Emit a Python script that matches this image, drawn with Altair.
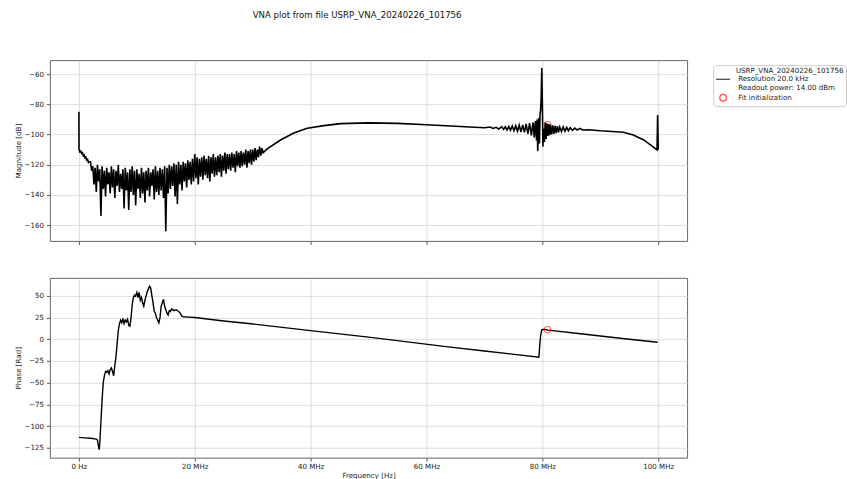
import altair as alt
import pandas as pd

TITLE = "VNA plot from file USRP_VNA_20240226_101756"
LEGEND_HEAD = "USRP_VNA_20240226_101756"
LEGEND_INDENT = "\u2800" * 4
TRACE_LABEL = "Resolution 20.0 kHz\nReadout power: 14.00 dBm"
FIT_LABEL = "Fit initialization"

# x ticks (MHz)
x_ticks = [0, 20, 40, 60, 80, 100]
mag_ticks = [-160, -140, -120, -100, -80, -60]
phase_ticks = [-125, -100, -75, -50, -25, 0, 25, 50]

# ---- magnitude trace ----
mag_start_freq = [0.0, 0.02, 0.15, 0.3, 0.45, 0.6, 0.75, 0.9, 1.05, 1.2, 1.35, 1.5, 1.65, 1.8]
mag_start_db = [-85, -110, -111.5, -111, -112.5, -112, -114, -113.5, -115.5, -115, -117, -116.5, -118.5, -118]

# noisy band, sampled every 0.2 MHz from 2.0 MHz
noise_freq_start = 2.0
noise_freq_step = 0.2
mag_noise_db = [
    -118, -124, -121, -133, -122, -138, -120, -131, -123, -154,
    -121, -136, -124, -141, -122, -133, -125, -139, -121, -135,
    -123, -142, -124, -134, -120, -138, -126, -136, -123, -149,
    -122, -137, -125, -150, -123, -138, -121, -140, -124, -147,
    -123, -136, -126, -142, -122, -139, -125, -145, -124, -137,
    -122, -141, -125, -134, -123, -143, -121, -138, -124, -140,
    -122, -137, -123, -142, -121, -164, -122, -139, -120, -136,
    -121, -134, -119, -141, -120, -146, -118, -133, -120, -137,
    -118, -131, -119, -135, -117, -130, -118, -133, -116, -131,
    -113, -129, -115, -133, -116, -128, -115, -130, -114, -127,
    -116, -129, -114, -131, -115, -126, -113, -128, -115, -127,
    -114, -125, -113, -128, -114, -124, -112, -126, -113, -123,
    -113, -124, -112, -122, -113, -125, -111, -121, -112, -122,
    -111, -121, -112, -120, -110, -122, -111, -119, -110, -120,
    -110, -118, -109, -117, -110, -115, -108, -114, -109, -112,
]

mag_tail_freq = [32.5, 34.8, 37.1, 39.4, 42.3, 45.2, 50, 55, 60, 65,
                 70, 71, 71.5, 72, 72.5, 73, 73.3, 73.6, 73.9, 74.2,
                 74.5, 74.8, 75.1, 75.4, 75.7, 76, 76.3, 76.6, 76.9, 77.2,
                 77.5, 77.8, 78.1, 78.4, 78.6, 78.8, 79.0, 79.1, 79.2, 79.35,
                 79.5, 79.6, 79.7, 79.8, 79.9, 80.0, 80.1, 80.2, 80.35, 80.5,
                 80.65, 80.8, 80.95, 81.1, 81.25, 81.4, 81.6, 81.8, 82.0, 82.2,
                 82.4, 82.6, 82.8, 83.0, 83.3, 83.6, 83.9, 84.2, 84.5, 84.8,
                 85.2, 85.6, 86, 86.5, 87, 88, 90, 92, 94, 95.7,
                 97.5, 98.9, 99.8, 99.9, 100]
mag_tail_db = [-109.5, -103.6, -99, -95.8, -94.1, -92.8, -92.3, -92.6, -93.5, -94.5,
               -95.5, -95, -96, -95.2, -96.3, -94.8, -96.6, -94.9, -97, -94.6,
               -97.2, -94.4, -97.5, -94.2, -97.8, -93.8, -98.3, -93.6, -98.5, -93,
               -99.5, -92.5, -100.5, -92, -102, -91, -104, -90, -111, -89,
               -106, -86, -84, -75, -56, -80, -108, -96, -105, -92,
               -103, -92.5, -101, -93, -100.5, -93.5, -100, -94, -99.5, -94.2,
               -99, -94.5, -98.5, -95, -98, -95, -97.8, -95.3, -97.5, -95.5,
               -97.3, -95.8, -97, -96, -97, -96.8, -97.5, -98, -98.5, -100.3,
               -103.6, -107.5, -110.2, -87, -110]

# ---- phase trace ----
phase_freq = [0, 1, 2, 3, 3.2, 3.4, 3.5, 3.6, 3.8,
              4.0, 4.2, 4.4, 4.6, 4.8, 5.0, 5.2, 5.4, 5.6, 5.8,
              6.0, 6.2, 6.4, 6.6, 6.8, 7.0, 7.2, 7.4, 7.6, 7.8,
              8.0, 8.2, 8.4, 8.6, 8.8, 9.0, 9.2, 9.4, 9.6, 9.8,
              10.0, 10.2, 10.4, 10.6, 10.8, 11.0, 11.2, 11.4, 11.6, 11.8,
              12.0, 12.2, 12.4, 12.6, 12.8, 13.0, 13.2, 13.4, 13.6, 13.8,
              14.0, 14.2, 14.4, 14.6, 14.8, 15.0, 15.2, 15.4, 15.6, 15.8,
              16.0, 16.4, 16.8, 17.2, 17.5, 17.7,
              18, 19, 20, 25, 29.7,
              40, 50, 64.1, 70, 79.4,
              79.6, 79.7, 79.9, 80.3, 81,
              86.6, 90, 95, 99.9]
phase_rad = [-113, -113.5, -114, -115, -116, -124, -127, -120, -95,
             -70, -50, -42, -37, -38, -36, -40, -35, -33, -37,
             -42, -30, -20, -5, 10, 18, 22, 19, 24, 18,
             22, 20, 23, 16, 15, 25, 40, 48, 51, 50,
             54, 48, 54, 45, 48, 42, 38, 45, 50, 55,
             58, 61, 59, 50, 42, 32, 30, 25, 22, 19,
             25, 38, 42, 46, 38, 34, 30, 28, 33, 32,
             35, 33, 34, 32, 30, 27,
             26, 25.5, 25, 21, 17.8,
             10, 2.5, -9.1, -13.5, -20.6,
             -3, 4.3, 10.9, 11.5, 10.5,
             6.3, 3.7, 0, -3.4]

# ---- fit initialization ----
fit_freq = [80.9]
fit_mag = [-93.5]
fit_phase = [11.0]

noise_freq = [round(noise_freq_start + noise_freq_step * i, 2) for i in range(len(mag_noise_db))]
mag_df = pd.DataFrame({
    "freq": mag_start_freq + noise_freq + mag_tail_freq,
    "value": mag_start_db + mag_noise_db + mag_tail_db,
})
mag_df["order"] = range(len(mag_df))
mag_df["series"] = TRACE_LABEL

phase_df = pd.DataFrame({"freq": phase_freq, "value": phase_rad})
phase_df["order"] = range(len(phase_df))

fit_mag_df = pd.DataFrame({"freq": fit_freq, "value": fit_mag})
fit_mag_df["series"] = FIT_LABEL
fit_phase_df = pd.DataFrame({"freq": fit_freq, "value": fit_phase})

FONT = "DejaVu Sans"
FS = 7.1
W = 638
x_scale = alt.Scale(domain=[-5, 105], nice=False)
series_domain = [TRACE_LABEL, FIT_LABEL]

legend = alt.Legend(
    title=LEGEND_INDENT + LEGEND_HEAD, titleFont=FONT, titleFontSize=FS, titleFontWeight="normal",
    titleColor="#222222", titlePadding=-3, titleAnchor="start", titleAlign="left", titleLimit=0,
    labelExpr="split(datum.label, '\\n')", labelLimit=0, labelOffset=7,
    orient="none", legendX=664, legendY=5,
    padding=2, strokeColor="#cccccc", cornerRadius=3,
    labelFont=FONT, labelFontSize=FS, labelColor="#222222", rowPadding=-1,
    symbolStrokeWidth=1.3, symbolFillColor="transparent",
)
color_enc = alt.Color("series:N", scale=alt.Scale(domain=series_domain, range=["black", "red"]), legend=legend)
shape_enc = alt.Shape("series:N", scale=alt.Scale(domain=series_domain, range=["stroke", "circle"]), legend=legend)
size_enc = alt.Size("series:N", scale=alt.Scale(domain=series_domain, range=[196, 45]), legend=legend)

top_x = alt.X("freq:Q", scale=x_scale, axis=alt.Axis(values=x_ticks, labels=False, title=None))
top_y = alt.Y("value:Q", scale=alt.Scale(domain=[-170.5, -50.8], nice=False, zero=False),
              axis=alt.Axis(values=mag_ticks, title="Magnitude [dB]", labelOverlap=False))

top_points = alt.Chart(fit_mag_df).mark_point(filled=False, strokeWidth=1).encode(
    x=top_x, y=top_y, color=color_enc, shape=shape_enc, size=size_enc)
top_line = alt.Chart(mag_df).mark_line(strokeWidth=1.6, clip=True).encode(
    x=top_x, y=top_y, order="order:Q", color=color_enc)
top = alt.layer(top_points, top_line).properties(width=W, height=181)

bot_x = alt.X("freq:Q", scale=x_scale,
              axis=alt.Axis(values=x_ticks, title="Frequency [Hz]", labelPadding=1,
                            labelExpr="datum.value == 0 ? '0 Hz' : datum.value + ' MHz'"))
bot_y = alt.Y("value:Q", scale=alt.Scale(domain=[-136.4, 70.6], nice=False, zero=False),
              axis=alt.Axis(values=phase_ticks, title="Phase [Rad]", labelOverlap=False))
bot_line = alt.Chart(phase_df).mark_line(strokeWidth=1.4, color="black", clip=True).encode(
    x=bot_x, y=bot_y, order="order:Q")
bot_points = alt.Chart(fit_phase_df).mark_point(filled=False, strokeWidth=1, color="red", size=45).encode(
    x=bot_x, y=bot_y)
bottom = alt.layer(bot_line, bot_points).properties(width=W, height=180)

chart = alt.vconcat(top, bottom, spacing=31).properties(
    title=alt.TitleParams(TITLE, anchor="start", frame="group", dx=203, offset=40,
                          font=FONT, fontSize=8.6, fontWeight="normal", color="#111111"),
    padding={"left": 14, "top": 10, "right": 0, "bottom": 5},
).configure_axis(
    labelFont=FONT, labelFontSize=FS, labelColor="#222222", labelOverlap=False,
    titleFont=FONT, titleFontSize=FS, titleFontWeight="normal", titleColor="#222222",
    gridColor="#d6d6d6", gridWidth=0.8, tickColor="#333333", tickSize=3.5, tickWidth=0.8,
    domain=False, labelPadding=3, titlePadding=2,
).configure_view(stroke="#555555", strokeWidth=0.9)

chart.save("out.html", embed_options={"renderer": "svg", "actions": False})
